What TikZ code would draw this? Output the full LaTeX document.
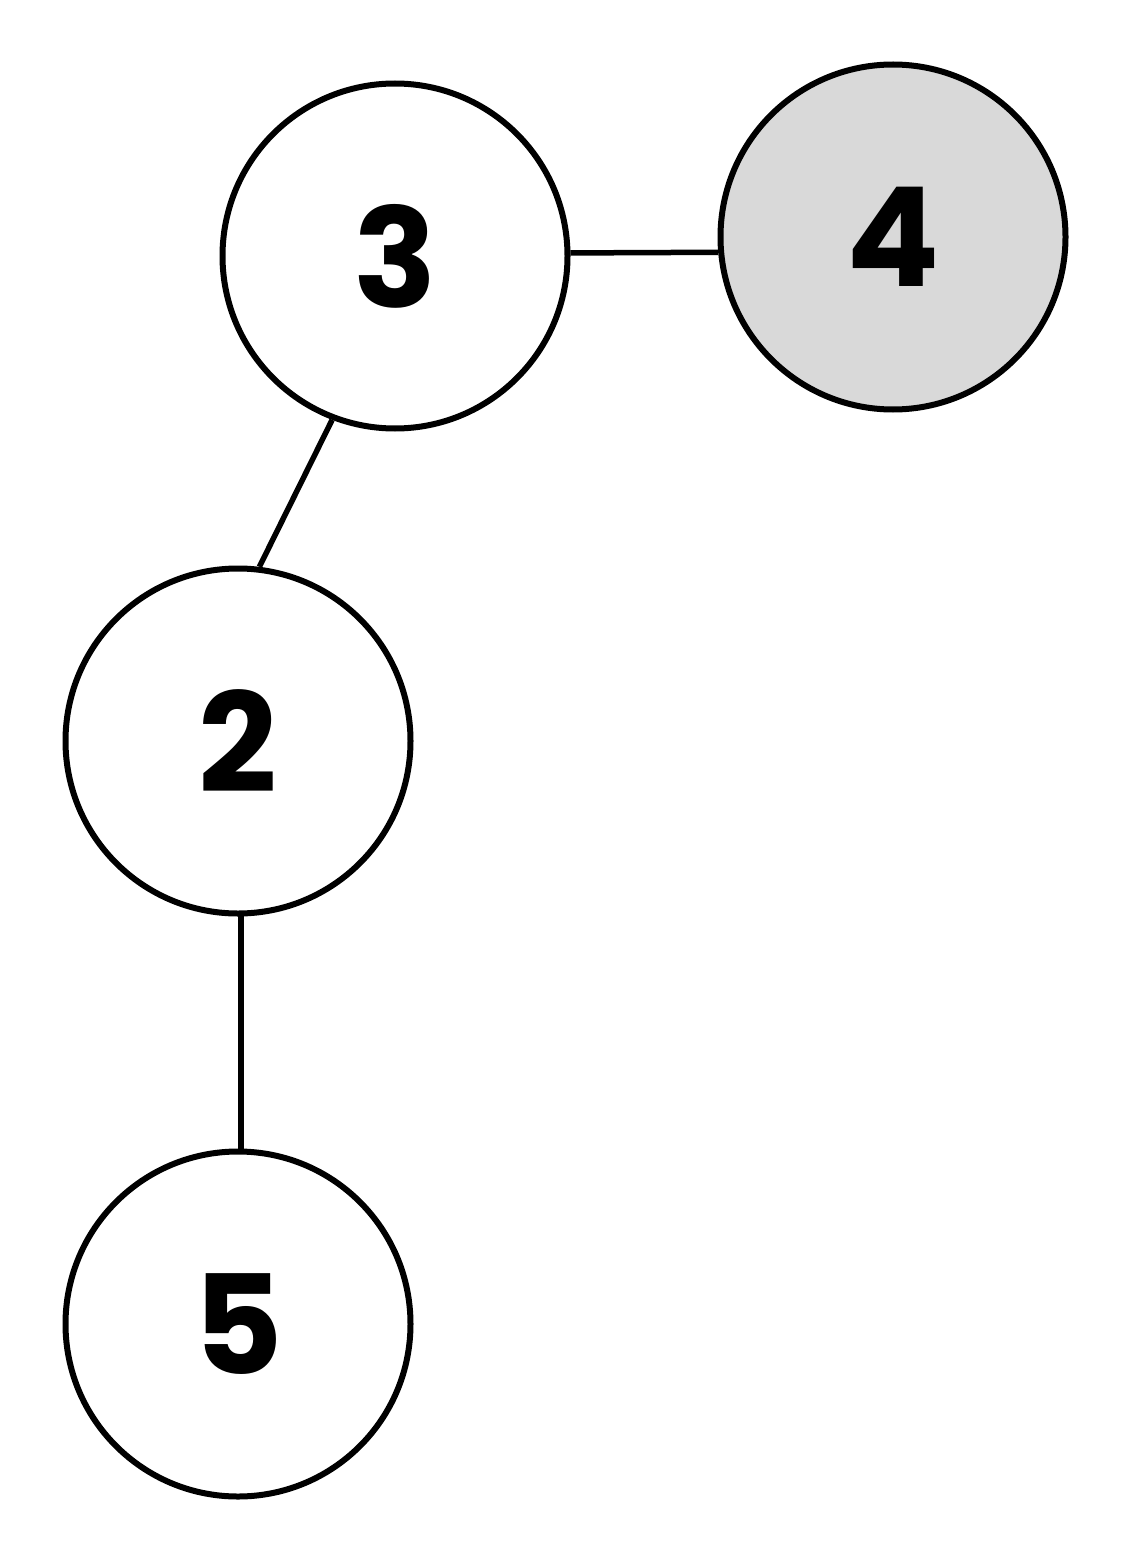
\documentclass[tikz,border=0pt]{standalone}
\usepackage{fontspec}
\setmainfont{Poppins}
\definecolor{nodegray}{HTML}{D9D9D9}
\begin{document}
\begin{tikzpicture}[x=1pt,y=-1pt,
  vert/.style={circle,draw=black,line width=6pt,fill=white,minimum size=345pt,inner sep=0pt,
    font=\fontsize{138}{138}\selectfont\bfseries},
  edge/.style={line width=5.5pt,draw=black}]
\useasboundingbox (0,0) rectangle (1132,1562);
\node[vert] (n3) at (395,256) {3};
\node[vert,fill=nodegray] (n4) at (893,237) {4};
\node[vert] (n2) at (238,741) {2};
\node[vert] (n5) at (238,1324) {5};
\draw[edge] (n3.1) -- (n4.185.3);
\draw[edge] (n3.-111) -- (n2.83);
\draw[edge] (n2.-89.3) -- (n5.89.3);
\end{tikzpicture}
\end{document}
